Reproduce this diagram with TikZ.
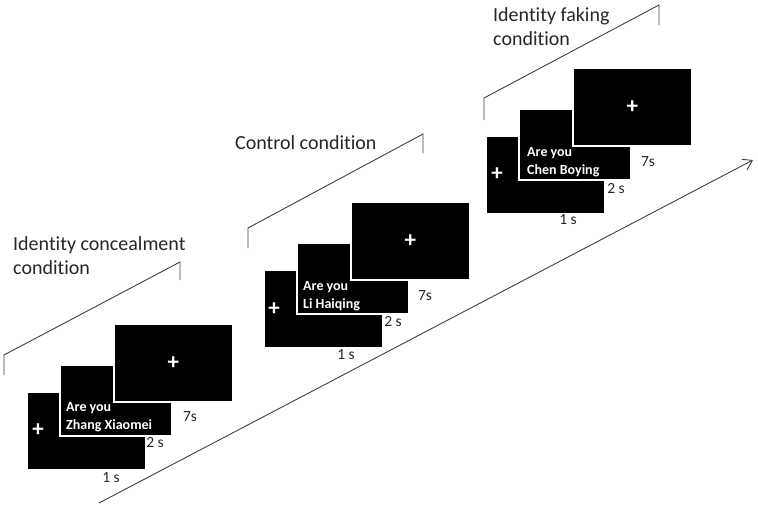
\documentclass[tikz,border=0pt]{standalone}
\usepackage{fontspec}
\setmainfont{Carlito}[Ligatures=NoCommon]
\usetikzlibrary{positioning, arrows.meta}

\begin{document}
\begin{tikzpicture}[x=1pt, y=-1pt,
     screen/.style = {anchor=north west, fill=black, draw=white,
         line width=1.6pt, inner sep=0pt},
     big/.style = {screen, minimum width=119pt, minimum height=78pt},
     small/.style = {screen, minimum width=112pt, minimum height=71pt},
     cross/.style = {text=white, inner sep=0pt,
         font=\bfseries\fontsize{23}{23}\selectfont},
     question/.style = {text=white, align=left, anchor=west, inner sep=0pt,
         font=\bfseries\fontsize{14}{18}\selectfont},
     dur/.style = {inner sep=0pt, text=black!85, font=\fontsize{15.5}{15.5}\selectfont},
     title/.style = {align=left, anchor=north west, inner sep=0pt, text=black!85,
         font=\fontsize{20}{24}\selectfont},
     bracket/.style = {draw=black!75, line width=0.9pt}]
        \useasboundingbox (0,0) rectangle (758,509);

        % identity concealment
        \node [title] (title1) at (13,236) {Identity concealment\\condition};
        \draw [bracket] (4,375) -- (4,355) -- (180,262) -- (180,280);
        \node [big] (fix1) at (26,391) {};
        \node [small] (ask1) at (59,364) {};
        \node [big] (ret1) at (113,323) {};
        \node [cross] (plus1) at (38,430) {+};
        \node [cross] (cross1) at (ret1.center) {+};
        \node [question] (q1) at (66,417) {Are you\\Zhang Xiaomei};
        \node [dur] (t1a) at (111,478) {1 s};
        \node [dur] (t1b) at (155,443) {2 s};
        \node [dur] (t1c) at (190,417) {7s};

        % control
        \node [title] (title2) at (235,135) {Control condition};
        \draw [bracket] (248,248) -- (248,228) -- (423,134) -- (423,153);
        \node [big] (fix2) at (263,269) {};
        \node [small] (ask2) at (296,242) {};
        \node [big] (ret2) at (350,201) {};
        \node [cross] (plus2) at (274,309) {+};
        \node [cross] (cross2) at (ret2.center) {+};
        \node [question] (q2) at (303,296) {Are you\\Li Haiqing};
        \node [dur] (t2a) at (346,355) {1 s};
        \node [dur] (t2b) at (393,322) {2 s};
        \node [dur] (t2c) at (425,296) {7s};

        % identity faking
        \node [title] (title3) at (493,7) {Identity faking\\condition};
        \draw [bracket] (484,120) -- (484,98) -- (659,5) -- (659,25);
        \node [big] (fix3) at (485,135) {};
        \node [small] (ask3) at (518,108) {};
        \node [big] (ret3) at (572,67) {};
        \node [cross] (plus3) at (497,174) {+};
        \node [cross] (cross3) at (ret3.center) {+};
        \node [question] (q3) at (527,162) {Are you\\Chen Boying};
        \node [dur] (t3a) at (568,220) {1 s};
        \node [dur] (t3b) at (616,189) {2 s};
        \node [dur] (t3c) at (648,162) {7s};

        % time axis
        \coordinate (tstart) at (99,503);
        \coordinate (tend) at (753,160);
        \draw [bracket, -{Straight Barb[length=9pt, width=12pt]}] (tstart) -- (tend);
\end{tikzpicture}
\end{document}
